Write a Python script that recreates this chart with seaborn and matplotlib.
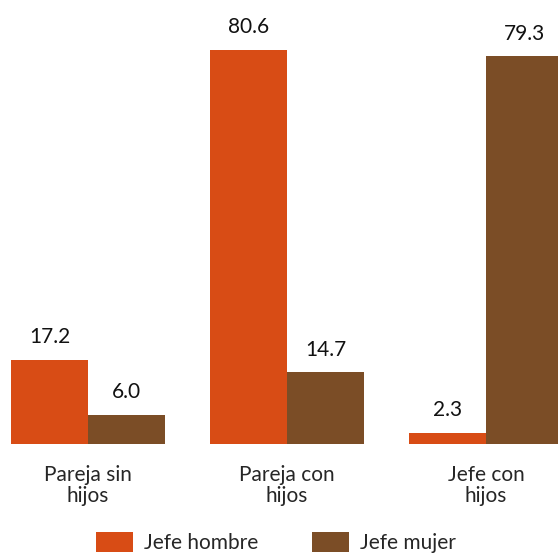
import matplotlib
matplotlib.use("Agg")
import matplotlib.pyplot as plt
import seaborn as sns
import pandas as pd
from matplotlib.patches import Patch

categorias = ["Pareja sin\nhijos", "Pareja con\nhijos", "Jefe con\nhijos"]
series = ["Jefe hombre", "Jefe mujer"]
jefe_hombre = [17.2, 80.6, 2.3]
jefe_mujer = [6.0, 14.7, 79.3]
colores = ["#D84C15", "#7B4D26"]

df = pd.DataFrame({
    "categoria": categorias * 2,
    "serie": [series[0]] * 3 + [series[1]] * 3,
    "valor": jefe_hombre + jefe_mujer,
})

sns.set_theme(style="white")
plt.rcParams["font.family"] = ["Lato", "DejaVu Sans"]

fig = plt.figure(figsize=(5.58, 5.55), dpi=100)
ax = fig.add_axes([0, 0.2, 1, 0.8])

sns.barplot(data=df, x="categoria", y="valor", hue="serie", order=categorias,
            hue_order=series, palette=colores, width=0.775, saturation=1,
            edgecolor="none", legend=False, ax=ax)

for cont in ax.containers:
    ax.bar_label(cont, fmt="%.1f", padding=9, fontsize=15, color="#111111")

ax.set_xlim(-0.442, 2.362)
ax.set_ylim(0, 90.8)
ax.set_xlabel("")
ax.set_ylabel("")
ax.set_yticks([])
ax.tick_params(axis="x", length=0, pad=15, labelsize=15, labelcolor="#262626")
ax.set_xticks(range(len(categorias)))
ax.set_xticklabels(categorias, linespacing=1.1)
for s in ax.spines.values():
    s.set_visible(False)
ax.patch.set_alpha(0)

handles = [Patch(facecolor=c, edgecolor="none", label=l) for c, l in zip(colores, series)]
fig.legend(handles=handles, loc="center", bbox_to_anchor=(0.495, 0.022), ncol=2,
           frameon=False, fontsize=15, handlelength=1.75, handleheight=1.1,
           handletextpad=0.55, columnspacing=2.6, labelcolor="#262626")

fig.savefig("out.png", dpi=100)
